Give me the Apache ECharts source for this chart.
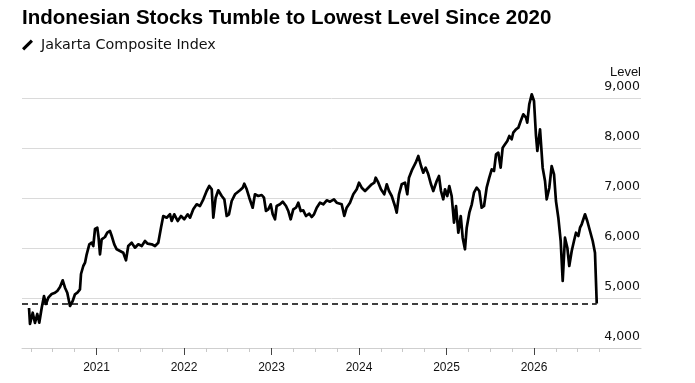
<!DOCTYPE html>
<html style='height: 100%'>
<head>
    <meta charset='utf-8'>
</head>
<body style='height: 100%; margin: 0; background: #fff'>
    <div id='container' style='width: 695px; height: 383px'></div>
    <script src="https://cdn.jsdelivr.net/npm/echarts@6/dist/echarts.min.js"></script>
    <script type="text/javascript">

// Jakarta Composite Index (x = fractional year, y = index level)
var years = [
    2020.229, 2020.240, 2020.271, 2020.297, 2020.323, 2020.346, 2020.374, 2020.400, 2020.423, 2020.449,
    2020.488, 2020.526, 2020.552, 2020.583, 2020.614, 2020.640, 2020.666, 2020.697, 2020.728, 2020.754,
    2020.781, 2020.811, 2020.823, 2020.849, 2020.869, 2020.888, 2020.918, 2020.945, 2020.963, 2020.983,
    2021.009, 2021.023, 2021.040, 2021.059, 2021.097, 2021.123, 2021.154, 2021.174, 2021.203, 2021.231,
    2021.269, 2021.306, 2021.337, 2021.363, 2021.402, 2021.440, 2021.478, 2021.517, 2021.554, 2021.585,
    2021.631, 2021.669, 2021.706, 2021.737, 2021.763, 2021.802, 2021.840, 2021.859, 2021.889, 2021.928,
    2021.966, 2022.003, 2022.042, 2022.069, 2022.106, 2022.145, 2022.183, 2022.221, 2022.259, 2022.289,
    2022.317, 2022.335, 2022.362, 2022.392, 2022.431, 2022.461, 2022.488, 2022.514, 2022.545, 2022.583,
    2022.640, 2022.671, 2022.689, 2022.717, 2022.746, 2022.785, 2022.811, 2022.849, 2022.888, 2022.914,
    2022.937, 2022.963, 2022.991, 2023.014, 2023.040, 2023.059, 2023.097, 2023.128, 2023.166, 2023.192,
    2023.219, 2023.249, 2023.280, 2023.306, 2023.334, 2023.363, 2023.394, 2023.432, 2023.459, 2023.486,
    2023.517, 2023.554, 2023.592, 2023.631, 2023.669, 2023.714, 2023.745, 2023.763, 2023.802, 2023.832,
    2023.859, 2023.897, 2023.935, 2023.974, 2024.000, 2024.031, 2024.069, 2024.106, 2024.145, 2024.175,
    2024.191, 2024.221, 2024.251, 2024.289, 2024.317, 2024.343, 2024.374, 2024.411, 2024.431, 2024.457,
    2024.488, 2024.526, 2024.552, 2024.571, 2024.609, 2024.648, 2024.678, 2024.709, 2024.735, 2024.762,
    2024.792, 2024.823, 2024.849, 2024.888, 2024.914, 2024.937, 2024.963, 2024.983, 2025.009, 2025.032,
    2025.059, 2025.086, 2025.109, 2025.135, 2025.163, 2025.185, 2025.211, 2025.231, 2025.261, 2025.289,
    2025.314, 2025.345, 2025.375, 2025.402, 2025.429, 2025.459, 2025.489, 2025.517, 2025.543, 2025.566,
    2025.592, 2025.619, 2025.642, 2025.669, 2025.695, 2025.718, 2025.745, 2025.763, 2025.794, 2025.821,
    2025.848, 2025.878, 2025.909, 2025.923, 2025.946, 2025.974, 2026.000, 2026.023, 2026.038, 2026.069,
    2026.099, 2026.126, 2026.145, 2026.175, 2026.202, 2026.229, 2026.251, 2026.278, 2026.305, 2026.328,
    2026.354, 2026.381, 2026.403, 2026.431, 2026.457, 2026.480, 2026.507, 2026.526, 2026.545, 2026.583,
    2026.609, 2026.640, 2026.671, 2026.697, 2026.717
];
var levels = [
    4800, 4480, 4706, 4500, 4680, 4506, 4806, 5040, 4880, 5006,
    5080, 5106, 5140, 5220, 5354, 5206, 5106, 4840, 4940, 5074,
    5106, 5174, 5480, 5640, 5706, 5874, 6074, 6106, 6040, 6380,
    6406, 6220, 5874, 6174, 6220, 6306, 6340, 6240, 6074, 5974,
    5940, 5906, 5754, 6040, 6106, 6006, 6074, 6040, 6140, 6086,
    6074, 6040, 6106, 6406, 6640, 6606, 6674, 6540, 6674, 6540,
    6640, 6574, 6674, 6606, 6774, 6874, 6840, 6974, 7140, 7240,
    7174, 6606, 7006, 7154, 7040, 6974, 6640, 6674, 6940, 7074,
    7154, 7206, 7286, 7174, 7006, 6806, 7074, 7040, 7060, 7006,
    6740, 6774, 6874, 6674, 6574, 6840, 6874, 6926, 6840, 6740,
    6574, 6774, 6806, 6906, 6740, 6754, 6640, 6686, 6620, 6674,
    6806, 6906, 6874, 6954, 6926, 6974, 6906, 6906, 6874, 6640,
    6806, 6906, 7074, 7174, 7306, 7206, 7140, 7206, 7274, 7306,
    7406, 7306, 7174, 7074, 7274, 7140, 7040, 6840, 6706, 7074,
    7274, 7306, 7074, 7406, 7574, 7706, 7840, 7640, 7506, 7606,
    7474, 7274, 7140, 7340, 7440, 7140, 6974, 7174, 7040, 7240,
    7040, 6506, 6840, 6306, 6640, 6206, 5974, 6406, 6706, 6874,
    7106, 7206, 7140, 6806, 6840, 7206, 7406, 7574, 7540, 7874,
    7906, 7606, 8006, 8074, 8140, 8240, 8174, 8306, 8374, 8406,
    8540, 8674, 8606, 8506, 8874, 9074, 8940, 8240, 7940, 8374,
    7606, 7340, 6974, 7206, 7640, 7474, 6940, 6606, 6140, 5340,
    6206, 6006, 5640, 5940, 6140, 6306, 6240, 6406, 6474, 6674,
    6540, 6340, 6140, 5906, 4890
];
var yearLabels = [2021, 2022, 2023, 2024, 2025, 2026];
var xMin = 2020.1486, xMax = 2027.2229;

var dom = document.getElementById("container");
var myChart = echarts.init(dom, null, { renderer: 'canvas' });
var font = "'Liberation Sans', Arial, sans-serif";
var wideFont = "'DejaVu Sans', sans-serif";

var seriesData = years.map(function (y, i) { return [y, levels[i]]; });
var lastLevel = levels[levels.length - 1];
var lastYear = years[years.length - 1];

var option = {
    animation: false,
    backgroundColor: '#fff',
    textStyle: { fontFamily: font },
    title: {
        text: 'Indonesian Stocks Tumble to Lowest Level Since 2020',
        left: 22,
        top: 8,
        padding: 0,
        textStyle: { fontFamily: font, fontSize: 20.5, fontWeight: 'bold', color: '#000' }
    },
    legend: {
        left: 22,
        top: 38,
        padding: 0,
        itemWidth: 11,
        itemHeight: 11,
        data: [{ name: 'Jakarta Composite Index', icon: 'path://M0,9 L8,1 L10,3 L2,11 Z' }],
        textStyle: { fontFamily: wideFont, fontSize: 14.3, color: '#111', padding: [0, 0, 0, 3] }
    },
    grid: { left: 22, right: 54, top: 98, bottom: 35 },
    xAxis: {
        type: 'value',
        min: xMin,
        max: xMax,
        splitNumber: 7,
        splitLine: { show: false },
        axisLine: { show: true, lineStyle: { color: '#cfcfcf', width: 1 } },
        axisTick: { show: true, length: 7, lineStyle: { color: '#444' }, customValues: yearLabels },
        minorTick: { show: true, splitNumber: 4, length: 4, lineStyle: { color: '#c8c8c8' } },
        axisLabel: {
            margin: 14,
            fontSize: 12,
            color: '#111',
            customValues: yearLabels,
            formatter: function (v) {
                return yearLabels.indexOf(Math.round(v * 1000) / 1000) >= 0 ? String(v) : '';
            }
        }
    },
    yAxis: {
        type: 'value',
        position: 'right',
        min: 4000,
        max: 9000,
        interval: 1000,
        name: 'Level',
        nameLocation: 'end',
        nameGap: 26,
        nameTextStyle: { fontFamily: font, fontSize: 13, color: '#111', align: 'right', verticalAlign: 'middle' },
        axisLine: { show: false },
        axisTick: { show: false },
        splitLine: { show: true, lineStyle: { color: '#dadada', width: 1 } },
        axisLabel: {
            inside: true,
            margin: 1,
            fontFamily: wideFont,
            fontSize: 12.5,
            color: '#111',
            verticalAlign: 'bottom',
            padding: [0, 0, 5, 0],
            formatter: function (v) { return v.toLocaleString('en-US'); }
        }
    },
    series: [{
        name: 'Jakarta Composite Index',
        type: 'line',
        data: seriesData,
        showSymbol: false,
        symbol: 'none',
        clip: false,
        lineStyle: { color: '#000', width: 2.7, join: 'round' },
        itemStyle: { color: '#000' },
        markLine: {
            silent: true,
            symbol: ['none', 'none'],
            label: { show: false },
            lineStyle: { color: '#000', type: [6, 4], width: 1.6 },
            data: [[{ coord: [xMin, lastLevel] }, { coord: [lastYear, lastLevel] }]]
        }
    }]
};

myChart.setOption(option);
    </script>
</body>
</html>
